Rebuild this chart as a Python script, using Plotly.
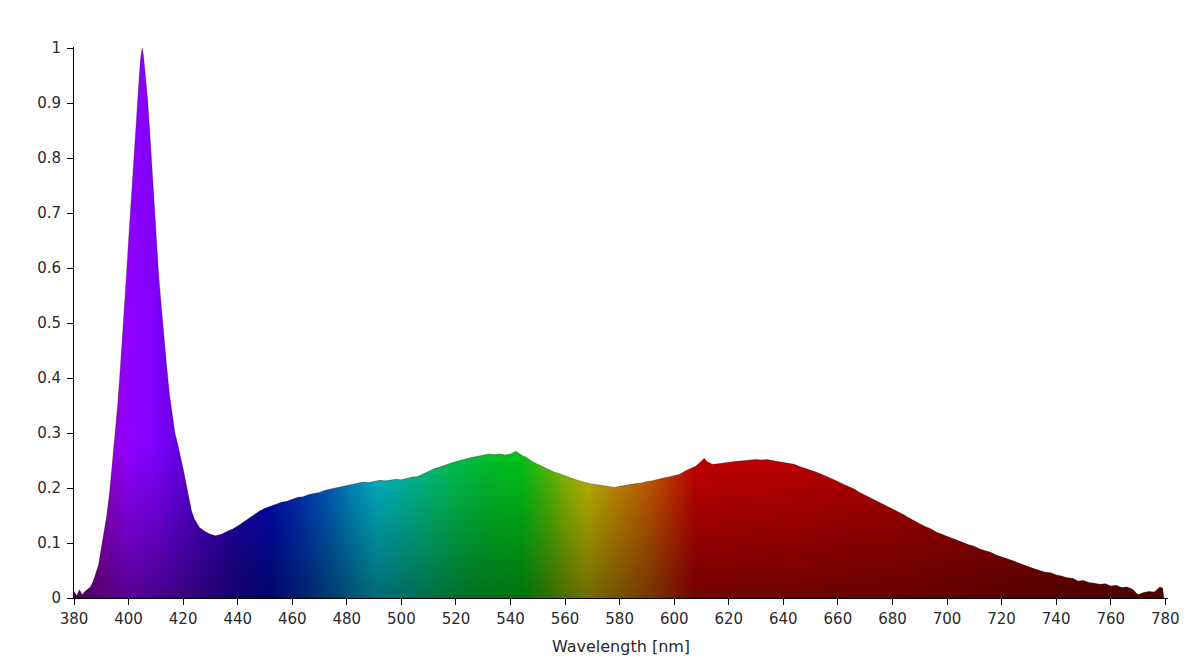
import plotly.graph_objects as go

# Wavelength samples [nm]
wavelength = [380, 381, 382, 383, 384, 385, 386, 387, 388, 389, 390, 391, 392, 393, 394, 395,
              396, 397, 398, 399, 400, 401, 402, 403, 404, 404.5, 405, 405.5, 406, 407, 408, 409,
              410, 411, 412, 413, 414, 415, 416, 417, 418, 419, 420, 421, 422, 423, 424, 425,
              426, 428, 430, 432, 434, 436, 438, 440, 442, 444, 446, 448, 450, 452, 454, 456,
              458, 460, 462, 464, 466, 468, 470, 472, 474, 476, 478, 480, 482, 484, 486, 488,
              490, 492, 494, 496, 498, 500, 502, 504, 506, 508, 510, 512, 514, 516, 518, 520,
              522, 524, 526, 528, 530, 532, 534, 536, 538, 540, 542, 544, 546, 548, 550, 552,
              554, 556, 558, 560, 562, 564, 566, 568, 570, 572, 574, 576, 578, 580, 582, 584,
              586, 588, 590, 592, 594, 596, 598, 600, 602, 604, 606, 608, 610, 611, 612, 614,
              616, 618, 620, 622, 624, 626, 628, 630, 632, 634, 636, 638, 640, 642, 644, 646,
              648, 650, 652, 654, 656, 658, 660, 662, 664, 666, 668, 670, 672, 674, 676, 678,
              680, 682, 684, 686, 688, 690, 692, 694, 696, 698, 700, 702, 704, 706, 708, 710,
              712, 714, 716, 718, 720, 722, 724, 726, 728, 730, 732, 734, 736, 738, 740, 742,
              744, 746, 748, 750, 752, 754, 756, 758, 760, 762, 764, 766, 768, 770, 772, 774,
              776, 778, 779, 779.5]

# Relative intensity
intensity = [0.012, 0.004, 0.015, 0.006, 0.012, 0.016, 0.020, 0.030, 0.045, 0.060, 0.090, 0.120,
             0.150, 0.190, 0.240, 0.290, 0.350, 0.420, 0.490, 0.570, 0.650, 0.730, 0.815, 0.890,
             0.955, 0.985, 1.000, 0.985, 0.960, 0.905, 0.830, 0.745, 0.660, 0.590, 0.530, 0.470,
             0.420, 0.370, 0.330, 0.300, 0.280, 0.260, 0.235, 0.210, 0.185, 0.160, 0.145, 0.135,
             0.128, 0.121, 0.116, 0.113, 0.116, 0.121, 0.125, 0.131, 0.138, 0.144, 0.151, 0.158,
             0.163, 0.167, 0.170, 0.174, 0.176, 0.179, 0.183, 0.184, 0.188, 0.190, 0.192, 0.196,
             0.198, 0.201, 0.203, 0.205, 0.207, 0.209, 0.211, 0.210, 0.212, 0.214, 0.213, 0.215,
             0.216, 0.215, 0.218, 0.220, 0.221, 0.226, 0.230, 0.235, 0.238, 0.242, 0.245, 0.248,
             0.251, 0.253, 0.256, 0.258, 0.260, 0.262, 0.261, 0.262, 0.260, 0.262, 0.267, 0.260,
             0.255, 0.248, 0.243, 0.238, 0.233, 0.229, 0.226, 0.222, 0.219, 0.215, 0.212, 0.209,
             0.207, 0.206, 0.204, 0.203, 0.201, 0.203, 0.205, 0.206, 0.208, 0.209, 0.212, 0.213,
             0.216, 0.218, 0.220, 0.222, 0.225, 0.231, 0.236, 0.240, 0.249, 0.254, 0.248, 0.243,
             0.244, 0.246, 0.247, 0.248, 0.249, 0.250, 0.251, 0.252, 0.251, 0.252, 0.250, 0.248,
             0.247, 0.244, 0.243, 0.239, 0.236, 0.233, 0.229, 0.225, 0.221, 0.217, 0.212, 0.207,
             0.203, 0.198, 0.192, 0.187, 0.183, 0.177, 0.173, 0.167, 0.162, 0.157, 0.152, 0.146,
             0.140, 0.135, 0.130, 0.126, 0.120, 0.116, 0.112, 0.109, 0.104, 0.101, 0.097, 0.094,
             0.089, 0.086, 0.083, 0.078, 0.075, 0.071, 0.068, 0.064, 0.060, 0.056, 0.053, 0.050,
             0.047, 0.046, 0.042, 0.040, 0.037, 0.036, 0.031, 0.032, 0.028, 0.027, 0.025, 0.026,
             0.022, 0.023, 0.019, 0.020, 0.016, 0.006, 0.010, 0.012, 0.011, 0.020, 0.018, 0.0]

# Spectral colour stops (wavelength, colour)
color_nm = [380, 390, 400, 410, 420, 430, 440, 451, 462, 472, 482, 491, 500, 510, 520, 530,
            544, 554, 560, 568, 578, 590, 599, 608, 640, 680, 720, 760, 780]
color_hex = ["#7a0090", "#9400c8", "#9000ff", "#7e00f8", "#6000e0", "#4000c8", "#2000b4",
             "#0008b8", "#0030bc", "#005cc0", "#0090c6", "#00b8c8", "#00bcaa", "#00c07c",
             "#00c050", "#00c030", "#00c418", "#50bc08", "#88bc00", "#c0bc00", "#c89000",
             "#c86000", "#c83000", "#c40000", "#be0000", "#b00000", "#9c0000", "#840000",
             "#7c0000"]

x_ticks = list(range(380, 781, 20))
y_ticks = [0, 0.1, 0.2, 0.3, 0.4, 0.5, 0.6, 0.7, 0.8, 0.9, 1]
y_tick_text = ["0", "0.1", "0.2", "0.3", "0.4", "0.5", "0.6", "0.7", "0.8", "0.9", "1"]

x0, x1 = 380, 780
h_scale = [[(w - x0) / (x1 - x0), c] for w, c in zip(color_nm, color_hex)]

fig = go.Figure()
fig.add_trace(go.Scatter(
    x=wavelength, y=intensity, mode="lines", fill="tozeroy",
    line=dict(width=0, color="rgba(0,0,0,0)"),
    fillgradient=dict(type="horizontal", colorscale=h_scale, start=x0, stop=x1),
    hoverinfo="skip", showlegend=False,
))
fig.add_trace(go.Scatter(
    x=wavelength, y=intensity, mode="lines", fill="tozeroy",
    line=dict(width=0.8, color="rgba(50,0,0,0.35)"),
    fillgradient=dict(type="vertical",
                      colorscale=[[0, "rgba(0,0,0,0.42)"], [1, "rgba(0,0,0,0)"]],
                      start=0, stop=0.27),
    hoverinfo="skip", showlegend=False,
))

tick_font = dict(family="DejaVu Sans", size=15, color="#2a2a2a")
title_font = dict(family="DejaVu Sans", size=16, color="#2a2a2a")
fig.update_layout(
    width=1186, height=662,
    margin=dict(l=66, r=26, t=39, b=72),
    paper_bgcolor="white", plot_bgcolor="white",
    showlegend=False,
    xaxis=dict(range=[380, 781], tickvals=x_ticks, ticktext=[str(v) for v in x_ticks],
               showgrid=False, zeroline=False, showline=True, linecolor="black",
               linewidth=1, ticks="outside", ticklen=6, tickcolor="black",
               tickfont=tick_font, ticklabelstandoff=1,
               title=dict(text="Wavelength [nm]", font=title_font, standoff=13)),
    yaxis=dict(range=[0, 1.002], tickvals=y_ticks, ticktext=y_tick_text,
               showgrid=False, zeroline=False, showline=True, linecolor="black",
               linewidth=1, ticks="outside", ticklen=6, tickcolor="black",
               tickfont=tick_font, ticklabelstandoff=3),
)

fig.write_html("out.html")
